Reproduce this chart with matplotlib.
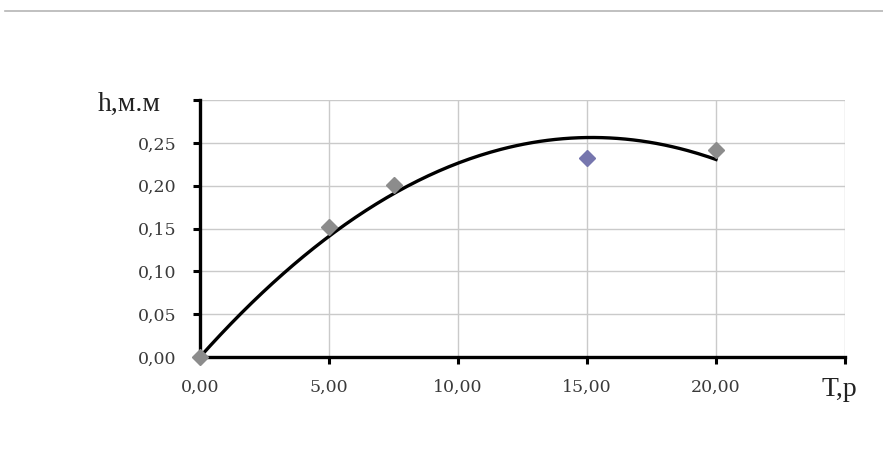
import numpy as np
import matplotlib
matplotlib.use("Agg")
import matplotlib.pyplot as plt
from matplotlib.lines import Line2D

# data
T = [0.0, 5.0, 7.5, 15.0, 20.0]
h = [0.0, 0.152, 0.201, 0.232, 0.242]
point_colors = ["#8c8c8c", "#8c8c8c", "#8c8c8c", "#7676ae", "#8c8c8c"]
x_ticks = [0, 5, 10, 15, 20, 25]
x_tick_labels = ["0,00", "5,00", "10,00", "15,00", "20,00", ""]
y_ticks = [0.0, 0.05, 0.10, 0.15, 0.20, 0.25, 0.30]
y_tick_labels = ["0,00", "0,05", "0,10", "0,15", "0,20", "0,25", ""]

plt.rcParams['font.family'] = ['DejaVu Serif']

fig = plt.figure(figsize=(8.83, 4.55), dpi=100)
ax = fig.add_axes([200/883, 1-357/455, 645/883, 257/455])

# polynomial (order 2, zero intercept) trend line fitted to the data
xa = np.array(T); ya = np.array(h)
A = np.vstack([xa, xa**2]).T
coef, *_ = np.linalg.lstsq(A, ya, rcond=None)
xs = np.linspace(0, 20, 200)
ax.plot(xs, coef[0]*xs + coef[1]*xs**2, color="black", lw=2.4, zorder=3)

for x, y, c in zip(T, h, point_colors):
    ax.plot(x, y, marker="D", ms=8.5, color=c, mec=c, ls="none", zorder=4, clip_on=False)

ax.set_xlim(0, 25)
ax.set_ylim(0, 0.30)
ax.set_xticks(x_ticks)
ax.set_xticklabels(x_tick_labels)
ax.set_yticks(y_ticks)
ax.set_yticklabels(y_tick_labels)
ax.grid(True, color="#cacaca", lw=1.0)
ax.set_axisbelow(True)
for s in ["top", "right"]:
    ax.spines[s].set_visible(False)
for s in ["left", "bottom"]:
    ax.spines[s].set_linewidth(2.4)
    ax.spines[s].set_color("black")
ax.tick_params(direction="out", length=5, width=2.2, color="black",
               labelsize=12.5, labelcolor="#3a3a3a")
ax.tick_params(axis="x", pad=11)
ax.tick_params(axis="y", pad=12)

fig.text(98/883, 1-104/455, "h,м.м", fontsize=20, color="#222222", va="center", ha="left",
         family="Liberation Serif")
fig.text(822/883, 1-390/455, "T,р", fontsize=20, color="#222222", va="center", ha="left",
         family="Liberation Serif")

fig.add_artist(Line2D([5/883, 1.0], [1-11/455, 1-11/455], color="#b5b5b5", lw=1.2))

fig.savefig("out.png", dpi=100, facecolor="white")
